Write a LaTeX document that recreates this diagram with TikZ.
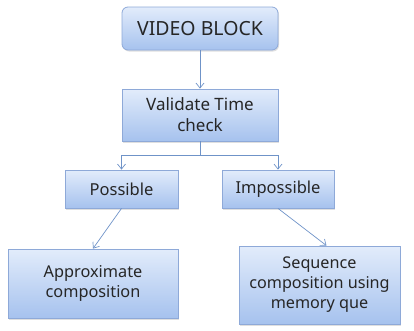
\documentclass[tikz,border=0pt]{standalone}
\usepackage{fontspec}
\setmainfont{Noto Sans}
\usetikzlibrary{arrows.meta,shadows}
\definecolor{edgeblue}{HTML}{8EA9D8}
\definecolor{topblue}{HTML}{E2ECFB}
\definecolor{botblue}{HTML}{A6C2EE}
\definecolor{linkblue}{HTML}{6F93C8}
\tikzset{
  box/.style={draw=edgeblue, line width=0.8pt, top color=topblue, bottom color=botblue,
    align=center, inner sep=0pt, text=black!85, font=\fontsize{16.3}{20}\selectfont,
    drop shadow={shadow xshift=1pt, shadow yshift=-1.5pt, opacity=0.25}},
  link/.style={draw=linkblue, line width=0.7pt, -{Straight Barb[length=5pt,width=8pt]}}
}
\begin{document}
\begin{tikzpicture}[x=1pt,y=-1pt]
\useasboundingbox (0,0) rectangle (414,330);
\node[box, rounded corners=6pt, minimum width=156pt, minimum height=43pt, font=\fontsize{19.5}{22}\selectfont] (vb) at (200,28.5) {VIDEO BLOCK};
\node[box, minimum width=156pt, minimum height=52pt, font=\fontsize{17}{21}\selectfont] (vt) at (200,115) {Validate Time\\check};
\node[box, minimum width=113pt, minimum height=38pt, font=\fontsize{16.5}{20}\selectfont] (po) at (121.5,189) {Possible};
\node[box, minimum width=112pt, minimum height=38pt, font=\fontsize{16.5}{20}\selectfont] (im) at (278,189) {Impossible};
\node[box, minimum width=170pt, minimum height=69pt] (ap) at (93,283.5) {Approximate\\composition};
\node[box, minimum width=161pt, minimum height=78pt, font=\fontsize{16.2}{20}\selectfont] (sq) at (319.5,285) {Sequence\\composition using\\memory que};
\coordinate (split) at (200,155);
\draw[link] (vb) -- (vt);
\draw[draw=linkblue, line width=0.7pt] (vt.south) -- (split);
\draw[link] (split) -| (po.north);
\draw[link] (split) -| (im.north);
\draw[link] (po.south) -- (ap.north);
\draw[link] (im.south) -- ([xshift=7pt]sq.north);
\end{tikzpicture}
\end{document}
